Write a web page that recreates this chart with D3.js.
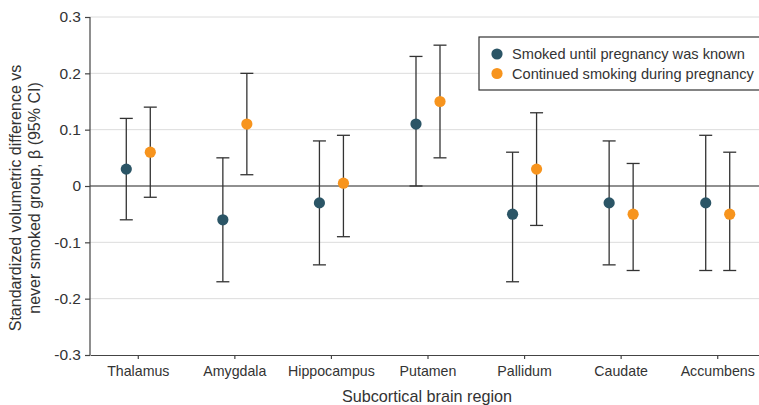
<!DOCTYPE html>
<html>
<head>
<meta charset="utf-8">
<script src="https://cdn.jsdelivr.net/npm/d3@7"></script>
<style>
	body { margin: 0; background: #fff; }
	svg { display: block; font-family: "Liberation Sans", Arial, sans-serif; }
</style>
</head>
<body>
<div id="chart"></div>
<script>
// values
var regions = ['Thalamus', 'Amygdala', 'Hippocampus', 'Putamen', 'Pallidum', 'Caudate', 'Accumbens'];

var untilKnownBeta  = [0.03, -0.06, -0.03, 0.11, -0.05, -0.03, -0.03];
var untilKnownLower = [-0.06, -0.17, -0.14, 0.00, -0.17, -0.14, -0.15];
var untilKnownUpper = [0.12, 0.05, 0.08, 0.23, 0.06, 0.08, 0.09];

var continuedBeta  = [0.06, 0.11, 0.005, 0.15, 0.03, -0.05, -0.05];
var continuedLower = [-0.02, 0.02, -0.09, 0.05, -0.07, -0.15, -0.15];
var continuedUpper = [0.14, 0.20, 0.09, 0.25, 0.13, 0.04, 0.06];

var yTicks = [-0.3, -0.2, -0.1, 0, 0.1, 0.2, 0.3];
var yTickLabels = ['-0.3', '-0.2', '-0.1', '0', '0.1', '0.2', '0.3'];

var groups = ['Smoked until pregnancy was known', 'Continued smoking during pregnancy'];
var groupColors = ['#2b5566', '#f7941d'];

function DrawChart(location) {
	var width = 759;
	var height = 405;
	var margin = { 'top': 17, 'bottom': 50, 'left': 90, 'right': -7 };

	var svg = d3.select(location).append('svg')
		.attr('width', width)
		.attr('height', height);

	var scaleX = d3.scaleBand()
		.domain(regions)
		.range([margin.left, width - margin.right])
		.padding(0);
	var scaleGroup = d3.scalePoint()
		.domain(groups)
		.range([-12, 12]);
	var scaleY = d3.scaleLinear()
		.domain([-0.3, 0.3])
		.range([height - margin.bottom, margin.top]);

	// gridlines
	svg.append('g').selectAll('line')
		.data(yTicks.filter(function(t) { return t !== 0 && t !== -0.3; }))
		.enter().append('line')
		.attr('x1', margin.left).attr('x2', width - margin.right)
		.attr('y1', function(d) { return scaleY(d); })
		.attr('y2', function(d) { return scaleY(d); })
		.attr('stroke', '#dcdcdc')
		.attr('stroke-width', 1);

	// zero line
	svg.append('line')
		.attr('x1', margin.left).attr('x2', width - margin.right)
		.attr('y1', scaleY(0)).attr('y2', scaleY(0))
		.attr('stroke', '#222')
		.attr('stroke-width', 1.2);

	// axes
	var yAxisCall = d3.axisLeft(scaleY)
		.tickValues(yTicks)
		.tickSize(5)
		.tickPadding(4)
		.tickFormat(function(d, i) { return yTickLabels[i]; });
	var yAxis = svg.append('g')
		.attr('transform', 'translate(' + margin.left + ',0)')
		.call(yAxisCall);
	yAxis.select('.domain').attr('d', 'M0,' + scaleY(0.3) + 'V' + scaleY(-0.3));

	var xAxisCall = d3.axisBottom(scaleX)
		.tickSize(4)
		.tickPadding(7)
		.tickSizeOuter(0);
	var xAxis = svg.append('g')
		.attr('transform', 'translate(0,' + scaleY(-0.3) + ')')
		.call(xAxisCall);

	[xAxis, yAxis].forEach(function(ax) {
		ax.select('.domain').attr('stroke', '#444').attr('stroke-width', 1.2);
		ax.selectAll('.tick line').attr('stroke', '#444').attr('stroke-width', 1.2);
		ax.selectAll('.tick text')
			.attr('fill', '#333')
			.style('font-family', '"Liberation Sans", Arial, sans-serif');
	});
	yAxis.selectAll('.tick text').style('font-size', '15.5px');
	xAxis.selectAll('.tick text').style('font-size', '14.2px');

	// series
	var series = [
		{ name: groups[0], beta: untilKnownBeta, lo: untilKnownLower, hi: untilKnownUpper },
		{ name: groups[1], beta: continuedBeta, lo: continuedLower, hi: continuedUpper }
	];

	series.forEach(function(s, si) {
		var rows = regions.map(function(r, i) {
			return { region: r, beta: s.beta[i], lo: s.lo[i], hi: s.hi[i] };
		});
		var cx = function(d) { return scaleX(d.region) + scaleX.bandwidth() / 2 + scaleGroup(s.name); };
		var g = svg.append('g');

		g.selectAll('.bar').data(rows).enter().append('line')
			.attr('x1', cx).attr('x2', cx)
			.attr('y1', function(d) { return scaleY(d.lo); })
			.attr('y2', function(d) { return scaleY(d.hi); })
			.attr('stroke', '#333').attr('stroke-width', 1.3);
		['lo', 'hi'].forEach(function(k) {
			g.selectAll('.cap-' + k).data(rows).enter().append('line')
				.attr('x1', function(d) { return cx(d) - 6.5; })
				.attr('x2', function(d) { return cx(d) + 6.5; })
				.attr('y1', function(d) { return scaleY(d[k]); })
				.attr('y2', function(d) { return scaleY(d[k]); })
				.attr('stroke', '#333').attr('stroke-width', 1.3);
		});
		g.selectAll('circle').data(rows).enter().append('circle')
			.attr('cx', cx)
			.attr('cy', function(d) { return scaleY(d.beta); })
			.attr('r', 5.6)
			.attr('fill', groupColors[si]);
	});

	// legend
	var legend = svg.append('g').attr('transform', 'translate(479,37)');
	legend.append('rect')
		.attr('x', 0).attr('y', 0)
		.attr('width', 300).attr('height', 53)
		.attr('fill', '#fff')
		.attr('stroke', '#333')
		.attr('stroke-width', 1.2);
	groups.forEach(function(name, i) {
		legend.append('circle')
			.attr('cx', 18).attr('cy', 17 + i * 19.5)
			.attr('r', 5.6)
			.attr('fill', groupColors[i]);
		legend.append('text')
			.attr('x', 33).attr('y', 17 + i * 19.5)
			.attr('dy', '0.35em')
			.attr('fill', '#333')
			.style('font-size', '14.6px')
			.text(name);
	});

	// axis titles
	svg.append('text')
		.attr('x', (margin.left + 766) / 2 - 1)
		.attr('y', 402)
		.attr('text-anchor', 'middle')
		.attr('fill', '#333')
		.style('font-size', '16.2px')
		.text('Subcortical brain region');

	var yTitle = svg.append('text')
		.attr('transform', 'translate(0,198) rotate(-90)')
		.attr('text-anchor', 'middle')
		.attr('fill', '#333')
		.style('font-size', '16px');
	yTitle.append('tspan').attr('x', 0).attr('y', 21).text('Standardized volumetric difference vs');
	yTitle.append('tspan').attr('x', 0).attr('y', 40).text('never smoked group, \u03b2 (95% CI)');
}

DrawChart('#chart');
</script>
</body>
</html>
